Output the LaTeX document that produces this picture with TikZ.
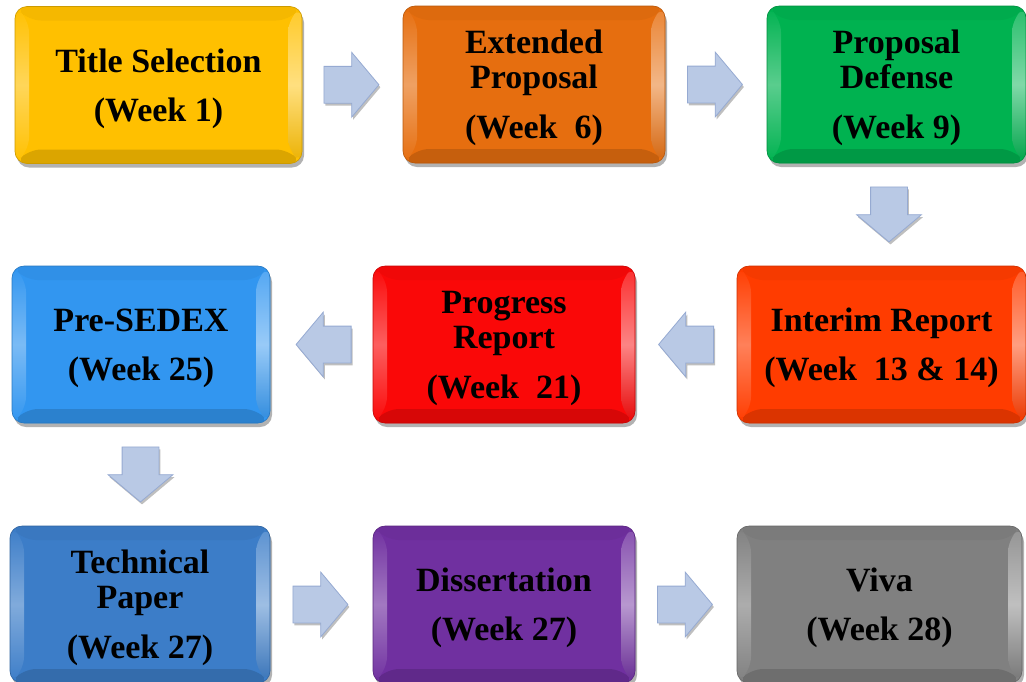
\documentclass[tikz,border=0pt]{standalone}
\usepackage{fontspec}
\setmainfont{Liberation Serif}
\usetikzlibrary{shapes.arrows,shadows,calc}

% stage colours
\definecolor{cYellow}{RGB}{255,192,0}
\definecolor{cOrange}{RGB}{230,110,15}
\definecolor{cGreen}{RGB}{0,178,80}
\definecolor{cVermilion}{RGB}{255,60,0}
\definecolor{cRed}{RGB}{250,8,8}
\definecolor{cSky}{RGB}{50,150,240}
\definecolor{cBlue}{RGB}{60,125,200}
\definecolor{cPurple}{RGB}{112,48,160}
\definecolor{cGray}{RGB}{128,128,128}
% block arrows
\definecolor{arrowfill}{RGB}{185,201,229}
\definecolor{arrowline}{RGB}{150,170,210}

% extra room above the first line of a stage label
\newcommand\topgap{\rule{0pt}{31pt}}

\tikzset{
  % bevelled, rounded stage box; #1 = base colour
  stage/.style={
    rounded corners=12pt, minimum height=157pt, inner sep=0pt, align=center,
    font=\bfseries\fontsize{34}{35}\selectfont, text=black,
    fill=#1, draw=#1!80!black, line width=0.6pt,
    drop shadow={shadow xshift=2pt, shadow yshift=-4pt, opacity=0.3, fill=black},
    path picture={
      \path (path picture bounding box.north west) coordinate (P1)
            (path picture bounding box.north east) coordinate (P2)
            (path picture bounding box.south east) coordinate (P3)
            (path picture bounding box.south west) coordinate (P4);
      \path ($(P1)+(14,14)$) coordinate (Q1)
            ($(P2)+(-14,14)$) coordinate (Q2)
            ($(P3)+(-14,-14)$) coordinate (Q3)
            ($(P4)+(14,-14)$) coordinate (Q4);
      \fill[#1!96!black] (P1)--(P2)--(Q2)--(Q1)--cycle;
      \fill[#1!86!black] (P4)--(P3)--(Q3)--(Q4)--cycle;
      \shade[top color=#1, bottom color=#1, middle color=#1!65!white]
            (P1)--(Q1)--(Q4)--(P4)--cycle;
      \shade[top color=#1!85!white, bottom color=#1!92!black, middle color=#1!50!white]
            (P2)--(Q2)--(Q3)--(P3)--cycle;
    }
  },
  % light blue block arrow between stages
  flowbase/.style={
    single arrow, draw=arrowline, fill=arrowfill, line width=0.8pt,
    minimum height=55pt, anchor=tail,
    single arrow head extend=14pt, single arrow tip angle=100,
    drop shadow={shadow xshift=1.5pt, shadow yshift=-2.5pt, opacity=0.25, fill=black}
  },
  hflow/.style={flowbase, inner xsep=0pt, inner ysep=18pt},
  vflow/.style={flowbase, inner xsep=18pt, inner ysep=0pt, shape border rotate=270}
}

\begin{document}
\begin{tikzpicture}[x=1pt, y=-1pt]
  \fill[white] (0,0) rectangle (1026,681);
  \useasboundingbox (0,0) rectangle (1026,681);

  % first row
  \node[stage=cYellow, minimum width=287pt] (t1) at (158.5,85)
    {\topgap Title Selection\\[14pt](Week 1)};
  \node[stage=cOrange, minimum width=262pt] (t2) at (534,84.5)
    {\topgap Extended\\Proposal\\[15pt](Week~~6)};
  \node[stage=cGreen, minimum width=259pt] (t3) at (896.5,84.5)
    {\topgap Proposal\\Defense\\[15pt](Week 9)};

  % second row
  \node[stage=cVermilion, minimum width=289pt] (t4) at (881.5,344.5)
    {\topgap Interim Report\\[14pt](Week~~13 \& 14)};
  \node[stage=cRed, minimum width=262pt] (t5) at (504,344.5)
    {\topgap Progress\\Report\\[15pt](Week~~21)};
  \node[stage=cSky, minimum width=258pt] (t6) at (141,344.5)
    {\topgap Pre-SEDEX\\[14pt](Week 25)};

  % third row
  \node[stage=cBlue, minimum width=260pt] (t7) at (140,604.5)
    {\topgap Technical\\Paper\\[15pt](Week 27)};
  \node[stage=cPurple, minimum width=262pt] (t8) at (504,604.5)
    {\topgap Dissertation\\[14pt](Week 27)};
  \node[stage=cGray, minimum width=285pt] (t9) at (879.5,604.5)
    {\topgap Viva\\[14pt](Week 28)};

  % block arrows between consecutive stages (placed by their tails)
  \node[hflow] (f1) at ($(t1.east)!0.5!(t2.west)+(-29,0)$) {};
  \node[hflow] (f2) at ($(t2.east)!0.5!(t3.west)+(-29,0)$) {};
  \node[vflow] (f3) at ($(t3.south)!0.5!(t4.north)+(0,-28)$) {};
  \node[hflow, shape border rotate=180] (f4) at ($(t4.west)!0.5!(t5.east)+(28,0)$) {};
  \node[hflow, shape border rotate=180] (f5) at ($(t5.west)!0.5!(t6.east)+(30,0)$) {};
  \node[vflow] (f6) at ($(t6.south)!0.5!(t7.north)+(0,-28)$) {};
  \node[hflow] (f7) at ($(t7.east)!0.5!(t8.west)+(-29,0)$) {};
  \node[hflow] (f8) at ($(t8.east)!0.5!(t9.west)+(-29,0)$) {};
\end{tikzpicture}
\end{document}
